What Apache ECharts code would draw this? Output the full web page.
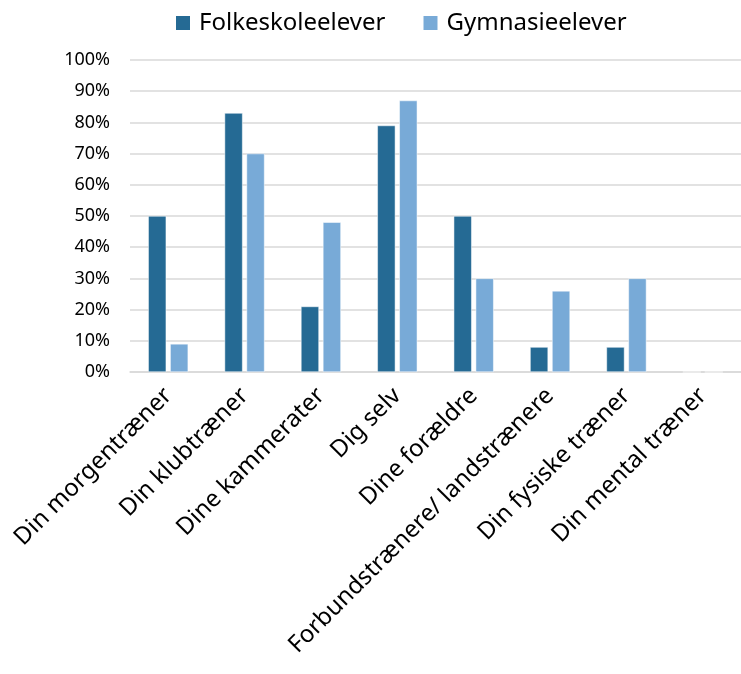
<!DOCTYPE html>
<html><head><meta charset="utf-8">
<script src="https://cdn.jsdelivr.net/npm/echarts@6/dist/echarts.min.js"></script>
<style>html,body{margin:0;padding:0;background:#fff}#c{width:741px;height:674px}</style>
</head><body><div id="c"></div>
<script>
const categories = ["Din morgentræner","Din klubtræner","Dine kammerater","Dig selv","Dine forældre","Forbundstrænere/ landstrænere","Din fysiske træner","Din mental træner"];
const folkeskole = [50, 83, 21, 79, 50, 8, 8, 0];
const gymnasie = [9, 70, 48, 87, 30, 26, 30, 0];
const seriesNames = ["Folkeskoleelever","Gymnasieelever"];
const yTicks = [0,10,20,30,40,50,60,70,80,90,100];

const font = "Noto Sans";
const chart = echarts.init(document.getElementById('c'), null, {renderer:'canvas'});
chart.setOption({
  animation:false,
  textStyle:{fontFamily:font},
  legend:{
    top:6, left:169, itemWidth:16, itemHeight:16, itemGap:36,
    icon:'rect',
    textStyle:{fontSize:24, color:'#000', fontFamily:font, padding:[0,0,0,3]},
    data:seriesNames
  },
  grid:{left:130, top:60, width:621, height:312},
  xAxis:{
    type:'category', data:categories,
    axisLine:{lineStyle:{color:'#d9d9d9', width:1.5}},
    axisTick:{show:false},
    axisLabel:{rotate:45, fontSize:24, color:'#000', margin:20, interval:0, fontFamily:font}
  },
  yAxis:{
    type:'value', min:yTicks[0], max:yTicks[yTicks.length-1], interval:10,
    axisLine:{show:false}, axisTick:{show:false},
    splitLine:{lineStyle:{color:'#d9d9d9', width:1.5}},
    axisLabel:{formatter:v=>v+'%', fontSize:18, color:'#000', margin:20, fontFamily:font}
  },
  series:[
    {name:seriesNames[0], type:'bar', data:folkeskole, barWidth:18, barGap:'22%',
     itemStyle:{color:'#256a94', borderColor:'#ffffff', borderWidth:0.5}},
    {name:seriesNames[1], type:'bar', data:gymnasie, barWidth:18,
     itemStyle:{color:'#78aad7', borderColor:'#ffffff', borderWidth:0.5}}
  ]
});
</script></body></html>
